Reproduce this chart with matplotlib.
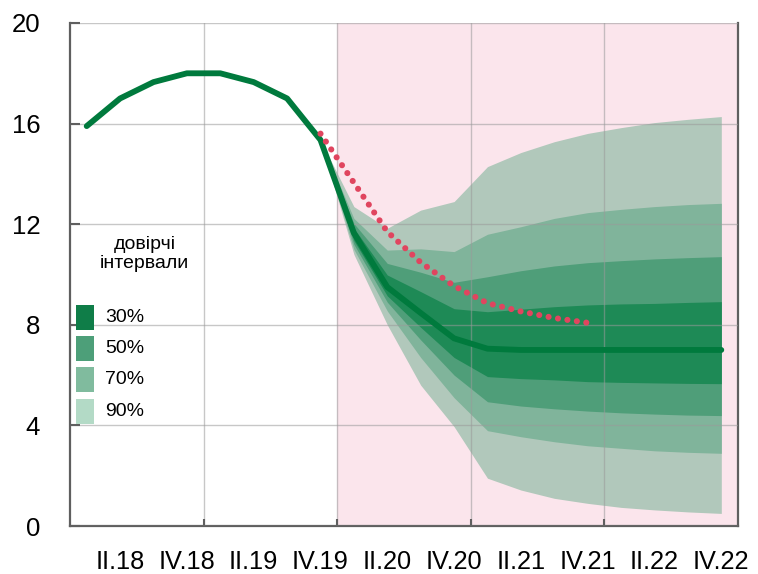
import matplotlib
matplotlib.use("Agg")
import matplotlib.pyplot as plt
from matplotlib.patches import Rectangle
import numpy as np

# quarters I.18 .. IV.22
quarters = ["I.18", "II.18", "III.18", "IV.18", "I.19", "II.19", "III.19", "IV.19",
            "I.20", "II.20", "III.20", "IV.20", "I.21", "II.21", "III.21", "IV.21",
            "I.22", "II.22", "III.22", "IV.22"]

# history + central forecast
central = [15.9, 17.0, 17.65, 18.0, 18.0, 17.65, 17.0, 15.35,
           11.65, 9.5, 8.47, 7.46, 7.05, 7.0, 7.0, 7.0, 7.0, 7.0, 7.0, 7.0]

# previous forecast (dotted), IV.19 .. IV.21
prev_start = 7
prev_fc = [15.6, 13.65, 11.7, 10.48, 9.54, 8.86, 8.53, 8.27, 8.08]

# fan chart bounds, IV.19 .. IV.22
fan_start = 7
up90 = [15.35, 12.7, 11.84, 12.56, 12.9, 14.29, 14.85, 15.28, 15.61, 15.84, 16.04, 16.17, 16.28]
up70 = [15.35, 12.23, 10.97, 11.02, 10.91, 11.6, 11.9, 12.23, 12.46, 12.59, 12.7, 12.78, 12.83]
up50 = [15.35, 12.03, 10.44, 10.09, 9.69, 9.91, 10.15, 10.34, 10.47, 10.55, 10.62, 10.67, 10.71]
up30 = [15.35, 11.84, 9.98, 9.32, 8.64, 8.52, 8.62, 8.72, 8.79, 8.83, 8.85, 8.89, 8.92]
lo30 = [15.35, 11.35, 9.15, 7.9, 6.7, 5.94, 5.86, 5.81, 5.74, 5.71, 5.69, 5.67, 5.66]
lo50 = [15.35, 11.2, 8.9, 7.4, 6.0, 4.94, 4.77, 4.66, 4.57, 4.5, 4.45, 4.41, 4.39]
lo70 = [15.35, 11.0, 8.55, 6.7, 5.1, 3.79, 3.55, 3.35, 3.19, 3.09, 2.99, 2.93, 2.89]
lo90 = [15.35, 10.8, 8.0, 5.6, 3.95, 1.9, 1.43, 1.1, 0.9, 0.74, 0.64, 0.56, 0.5]

band_labels = ["30%", "50%", "70%", "90%"]
band_colors = ["#1e8a56", "#4f9e79", "#80b49b", "#b1c8bb"]
legend_colors = ["#0f7d48", "#4d9f79", "#80bb9e", "#b3dac6"]

green = "#007a3d"
red = "#e0455f"
pink = "#fbe5ec"
axis_gray = "#5f5f5f"
grid_gray = "#9a9a9a"
font = ["Liberation Sans", "DejaVu Sans"]

fig = plt.figure(figsize=(7.58, 5.74), dpi=100)
ax = fig.add_axes([70 / 758, 48 / 574, 668 / 758, 503 / 574])

x = np.arange(len(quarters))
xf = np.arange(fan_start, fan_start + len(up90))

# forecast period shading
ax.axvspan(7.5, 19.5, color=pink, zorder=0, lw=0)

# fan, widest first
bounds = [(lo90, up90), (lo70, up70), (lo50, up50), (lo30, up30)]
for (lo, hi), col in zip(bounds, band_colors[::-1]):
    ax.fill_between(xf, lo, hi, color=col, lw=0, zorder=2)

ax.plot(x, central, color=green, lw=4.2, solid_capstyle="round",
        solid_joinstyle="round", zorder=4)
xp = np.arange(prev_start, prev_start + len(prev_fc))
ax.plot(xp, prev_fc, color=red, lw=4.4, linestyle=(0, (0.01, 1.55)),
        dash_capstyle="round", zorder=5)

ax.set_xlim(-0.5, 19.5)
ax.set_ylim(0, 20)

# labels every second quarter, tick marks at year boundaries
lab_pos = x[1::2]
ax.set_xticks(lab_pos, [quarters[i] for i in lab_pos])
ax.set_xticks([3.5, 7.5, 11.5, 15.5], minor=True)
ax.tick_params(axis="x", which="major", length=0, pad=17)
ax.tick_params(axis="x", which="minor", direction="in", length=5,
               width=1.5, color=axis_gray)
for t in ax.get_xticklabels():
    t.set_family(font)
    t.set_fontsize(18.3)

ax.set_yticks([0, 4, 8, 12, 16, 20])
ax.tick_params(axis="y", direction="in", length=7, width=1.5,
               color=axis_gray, pad=21.5)
for t in ax.get_yticklabels():
    t.set_family(font)
    t.set_fontsize(18.5)

ax.grid(axis="y", which="major", color=grid_gray, lw=1.0, alpha=0.55, zorder=3)
ax.grid(axis="x", which="minor", color=grid_gray, lw=1.0, alpha=0.55, zorder=3)
ax.set_axisbelow(False)

for side in ["left", "bottom", "right"]:
    ax.spines[side].set_color(axis_gray)
    ax.spines[side].set_linewidth(1.6)
ax.spines["top"].set_visible(False)

# hand-made legend
ax.text(0.112, 0.54, "довірчі\nінтервали", transform=ax.transAxes,
        ha="center", va="center", fontsize=14, linespacing=1.15,
        family=font, zorder=6)
box_top = [305, 336, 367, 399]
for top, lab, col in zip(box_top, band_labels, legend_colors):
    y0 = (526 - top - 25) / 503
    ax.add_patch(Rectangle((6 / 668, y0), 18 / 668, 25 / 503, transform=ax.transAxes,
                           facecolor=col, edgecolor="none", zorder=6))
    ax.text(35 / 668, y0 + 12.5 / 503, lab, transform=ax.transAxes,
            ha="left", va="center", fontsize=14, family=font, zorder=6)

fig.savefig("out.png", dpi=100)
